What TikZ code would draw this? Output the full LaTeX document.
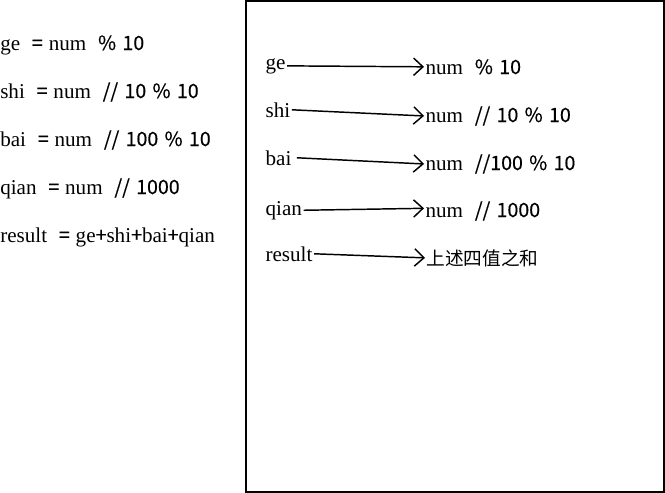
\documentclass[tikz,border=0pt]{standalone}
\usepackage{fontspec}
\setmainfont[Scale=1.13]{Liberation Serif}
\newfontfamily\cjk[Scale=1.05,FakeBold=0.35]{Noto Sans CJK SC}
\newfontfamily\zh{Noto Sans CJK SC}
\usetikzlibrary{arrows.meta}

\newcommand{\sy}[1]{{\cjk #1}}
\newcommand{\gp}{\hspace{0.28em}}
\newcommand{\gq}{\hspace{0.3em}}
\tikzset{
  code/.style={anchor=base west, inner sep=0pt, font=\fontsize{14}{16}\selectfont},
  var/.style={anchor=base west, inner sep=1pt, font=\fontsize{14}{16}\selectfont},
  val/.style={anchor=base west, inner sep=1pt, font=\fontsize{14}{16}\selectfont},
  link/.style={line width=1.1pt, -{Straight Barb[length=7pt,width=13pt]}}
}

\begin{document}
\begin{tikzpicture}[x=0.75pt,y=-0.75pt]
\useasboundingbox (0,0) rectangle (665,493);

        % code lines on the left
        \node[code] (l1) at (0,50) {ge\gp\gp\sy{=}\gp num\gp\gp\sy{\%}\gq\sy{10}};
        \node[code] (l2) at (0,98) {shi\gp\gp\sy{=}\gp num\gp\gp\sy{//}\gq\sy{10}\gq\sy{\%}\gq\sy{10}};
        \node[code] (l3) at (0,146) {bai\gp\gp\sy{=}\gp num\gp\gp\sy{//}\gq\sy{100}\gq\sy{\%}\gq\sy{10}};
        \node[code] (l4) at (0,194) {qian\gp\gp\sy{=}\gp num\gp\gp\sy{//}\gq\sy{1000}};
        \node[code] (l5) at (0,242) {result\gp\gp\sy{=}\gp ge\sy{+}shi\sy{+}bai\sy{+}qian};

        % box
        \draw[line width=1.1pt] (246,1) rectangle (664,492);

        \node[var] (ge) at (264,69) {ge};
        \node[var] (shi) at (264,117) {shi};
        \node[var] (bai) at (264,165) {bai};
        \node[var] (qian) at (264,215) {qian};
        \node[var] (result) at (264,261) {result};

        \node[val] (v1) at (424,74) {num\gp\gp\sy{\%}\gq\sy{10}};
        \node[val] (v2) at (424,122) {num\gp\gp\sy{//}\gq\sy{10}\gq\sy{\%}\gq\sy{10}};
        \node[val] (v3) at (424,170) {num\gp\gp\sy{//100}\gq\sy{\%}\gq\sy{10}};
        \node[val] (v4) at (424,217) {num\gp\gp\sy{//}\gq\sy{1000}};
        \node[val] (v5) at (425,265) {{\zh 上述四值之和}};

        \draw[link] (ge.east) -- (v1.west);
        \draw[link] (shi.east) -- (v2.west);
        \draw[link] ([xshift=3pt]bai.east) -- (v3.west);
        \draw[link] (qian.east) -- ([yshift=2pt]v4.west);
        \draw[link] (result.east) -- (v5.west);

\end{tikzpicture}
\end{document}
